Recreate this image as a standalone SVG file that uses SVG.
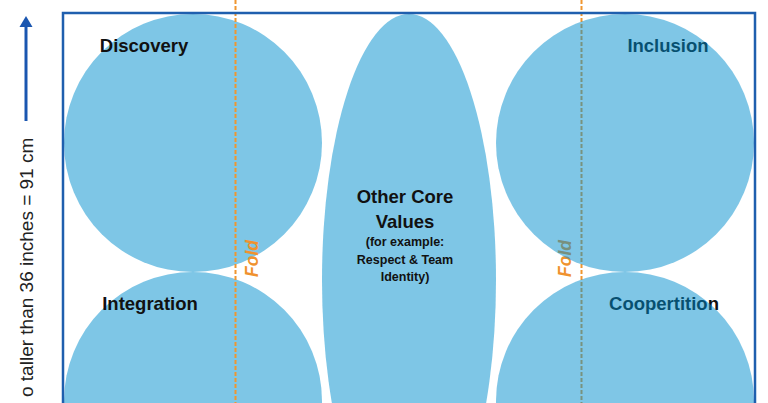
<svg xmlns="http://www.w3.org/2000/svg" width="768" height="403" viewBox="0 0 768 403">
  <style>
    .lbl { font-family: "Liberation Sans", Arial, sans-serif; font-weight: bold; font-size: 18.5px; fill: #111; text-anchor: middle; }
    .sm { font-size: 12.5px; }
    .fold { font-family: "Liberation Sans", Arial, sans-serif; font-weight: bold; font-style: italic; font-size: 17.5px; fill: #f0922e; }
    .foldline { stroke: #f0962f; stroke-width: 2; stroke-dasharray: 4 2; fill: none; }
    .solid { fill: #7ec6e6; }
    .glass { fill: #008dcd; fill-opacity: 0.5; }
    .side { font-family: "Liberation Sans", Arial, sans-serif; font-size: 19px; fill: #222; }
  </style>
  <rect width="768" height="403" fill="#ffffff"/>

  <g id="discovery">
    <circle class="solid" cx="193" cy="143" r="129"/>
  </g>
  <g id="integration">
    <circle class="solid" cx="193" cy="401" r="129"/>
  </g>
  <g id="other-core-values">
    <ellipse class="solid" cx="409" cy="280" rx="87" ry="266"/>
  </g>

  <g id="fold-left">
    <line class="foldline" x1="235.5" y1="0" x2="235.5" y2="403"/>
    <text class="fold" transform="translate(258,277) rotate(-90)">Fold</text>
  </g>

  <g id="labels">
    <text class="lbl" x="144" y="52">Discovery</text>
    <text class="lbl" x="150" y="310">Integration</text>
    <text class="lbl" x="405" y="203">Other Core</text>
    <text class="lbl" x="405" y="228">Values</text>
    <text class="lbl sm" x="405" y="246">(for example:</text>
    <text class="lbl sm" x="405" y="264">Respect &amp; Team</text>
    <text class="lbl sm" x="405" y="281">Identity)</text>
    <text class="lbl" x="668" y="52">Inclusion</text>
    <text class="lbl" x="664" y="310">Coopertition</text>
  </g>

  <g id="fold-right">
    <line class="foldline" x1="581.5" y1="0" x2="581.5" y2="403"/>
    <text class="fold" transform="translate(571,277) rotate(-90)">Fold</text>
  </g>

  <g id="inclusion">
    <circle class="glass" cx="625" cy="143" r="129"/>
  </g>
  <g id="coopertition">
    <circle class="glass" cx="625" cy="401" r="129"/>
  </g>

  <g id="frame">
    <rect x="63" y="13" width="692" height="420" fill="none" stroke="#1f5fae" stroke-width="2.5"/>
  </g>

  <g id="connectors">
    <line x1="26" y1="121" x2="26" y2="24" stroke="#1a56b0" stroke-width="3"/>
    <polygon points="26,16 19.5,27 32.5,27" fill="#1a56b0"/>
  </g>

  <g id="height-note">
    <text class="side" transform="translate(33,397) rotate(-90)">o taller than 36 inches = 91 cm</text>
  </g>
</svg>
